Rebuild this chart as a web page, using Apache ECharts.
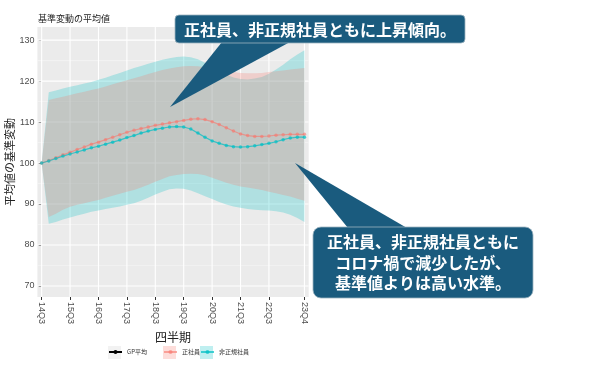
<!DOCTYPE html>
<html><head><meta charset="utf-8">
<script src="https://cdn.jsdelivr.net/npm/echarts@6/dist/echarts.min.js"></script>
<style>html,body{margin:0;padding:0;background:#fff}#c{width:600px;height:367px}</style>
</head><body><div id="c"></div>
<script>
// ---- data ----
const quarters = ['14Q3','14Q4','15Q1','15Q2','15Q3','15Q4','16Q1','16Q2','16Q3','16Q4','17Q1','17Q2','17Q3','17Q4','18Q1','18Q2','18Q3','18Q4','19Q1','19Q2','19Q3','19Q4','20Q1','20Q2','20Q3','20Q4','21Q1','21Q2','21Q3','21Q4','22Q1','22Q2','22Q3','22Q4','23Q1','23Q2','23Q3','23Q4'];
const xTickIndex = [0,4,8,12,16,20,24,28,32,37];
const yTicks = [70,80,90,100,110,120,130];
const yMinorTicks = [75,85,95,105,115,125];

const regularMean = [100,100.6,101.3,102.0,102.6,103.3,103.9,104.6,105.1,105.7,106.3,106.9,107.5,108.0,108.4,108.8,109.2,109.5,109.8,110.1,110.4,110.7,110.8,110.6,110.1,109.4,108.6,107.8,107.1,106.7,106.5,106.5,106.6,106.8,106.9,107.0,107.0,107.0];
const regularUpper = [100,115.4,115.8,116.2,116.6,117.0,117.4,117.8,118.2,118.7,119.2,119.7,120.2,120.7,121.2,121.7,122.2,122.7,123.1,123.4,123.6,123.7,123.6,123.4,123.1,122.8,122.5,122.2,122.0,121.9,121.9,122.0,122.2,122.4,122.6,122.8,123.0,123.2];
const regularLower = [100,86.8,87.6,88.6,89.3,89.8,90.2,90.6,91.0,91.5,92.0,92.5,93.0,93.4,94.0,94.7,95.4,96.1,96.8,97.1,97.3,97.4,97.3,97.0,96.4,95.8,95.2,94.7,94.3,94.0,93.7,93.4,93.0,92.6,92.2,91.8,91.3,90.8];

const nonRegularMean = [100,100.5,101.1,101.7,102.2,102.7,103.2,103.7,104.1,104.6,105.1,105.6,106.2,106.7,107.3,107.8,108.2,108.5,108.8,108.9,108.8,108.3,107.3,106.3,105.4,104.8,104.3,104.0,103.9,104.0,104.2,104.5,104.8,105.2,105.7,106.1,106.3,106.3];
const nonRegularUpper = [100,117.3,117.7,118.2,118.6,119.0,119.4,119.8,120.3,120.8,121.4,122.0,122.6,123.2,123.7,124.2,124.7,125.2,125.6,125.9,126.0,125.8,125.3,124.5,123.5,122.5,121.6,120.9,120.5,120.4,120.6,121.0,121.8,122.8,124.0,125.3,126.5,127.5];
const nonRegularLower = [100,85.2,85.6,86.2,86.7,87.2,87.6,88.1,88.4,88.8,89.1,89.4,89.8,90.2,90.8,91.5,92.3,93.0,93.6,93.8,93.7,93.3,92.6,91.9,91.2,90.5,89.9,89.4,89.1,88.8,88.6,88.5,88.4,88.2,87.9,87.4,86.6,85.6];

const seriesNames = ['GP平均','正社員','非正規社員'];
const titleText = '基準変動の平均値';
const xName = '四半期';
const yName = '平均値の基準変動';
const note1 = '正社員、非正規社員ともに上昇傾向。';
const note2 = '正社員、非正規社員ともに\nコロナ禍で減少したが、\n基準値よりは高い水準。';

// ---- build ----
const RED = '#F8766D', CYAN = '#00BFC4';
const pts = arr => arr.map((v,i)=>[i,v]);
const JP = '"Noto Sans CJK JP", "Noto Sans", sans-serif';

function ribbonSeries(lo, hi, fill){
  return {
    type:'custom', silent:true, z:2,
    data: lo.map((v,i)=>[i, v, hi[i]]),
    encode:{x:0, y:[1,2]},
    renderItem:function(params, api){
      if (params.dataIndex !== 0) return null;
      const top = hi.map((v,i)=>api.coord([i,v]));
      const bot = lo.map((v,i)=>api.coord([i,v])).reverse();
      return {type:'polygon', shape:{points:top.concat(bot)}, style:{fill:fill}};
    }
  };
}

const gridSeries = {
  type:'custom', silent:true, z:1,
  data:[[0,100]],
  renderItem:function(params, api){
    const children = [];
    const x0 = api.coord([-0.6,100])[0], x1 = api.coord([37.6,100])[0];
    const y0 = api.coord([0,67.3])[1], y1 = api.coord([0,133.2])[1];
    yMinorTicks.forEach(v=>{ const y = api.coord([0,v])[1];
      children.push({type:'line', shape:{x1:x0,y1:y,x2:x1,y2:y}, style:{stroke:'#F7F7F7', lineWidth:0.6}}); });
    yTicks.forEach(v=>{ const y = api.coord([0,v])[1];
      children.push({type:'line', shape:{x1:x0,y1:y,x2:x1,y2:y}, style:{stroke:'#FFFFFF', lineWidth:1.1}}); });
    xTickIndex.forEach(v=>{ const x = api.coord([v,100])[0];
      children.push({type:'line', shape:{x1:x,y1:y0,x2:x,y2:y1}, style:{stroke:'#FFFFFF', lineWidth:1.1}}); });
    return {type:'group', children:children};
  }
};

const chart = echarts.init(document.getElementById('c'));
const axisLabelStyle = {color:'#4D4D4D', fontSize:9, fontFamily:'Liberation Sans, Arial, sans-serif'};
const legendBase = {top:349, padding:0, itemWidth:13, itemHeight:5, itemGap:0, textStyle:{fontSize:6, color:'#333'}};
chart.setOption({
  animation:false,
  textStyle:{fontFamily:JP},
  title:{text:titleText, left:38, top:14, padding:0, textStyle:{fontSize:9, fontWeight:'normal', color:'#222', fontFamily:JP}},
  grid:{left:37.4, right:291.3, top:27, bottom:70, show:true, backgroundColor:'#EBEBEB', borderWidth:0},
  xAxis:{type:'value', min:-0.6, max:37.6,
    name:xName, nameLocation:'middle', nameGap:25, nameTextStyle:{fontSize:12, color:'#222', fontFamily:JP},
    axisLine:{show:false}, splitLine:{show:false},
    axisTick:{show:true, length:3, lineStyle:{color:'#333'}, customValues:xTickIndex},
    axisLabel:Object.assign({rotate:-90, margin:5, customValues:xTickIndex, formatter:v=>quarters[Math.round(v)]}, axisLabelStyle)
  },
  yAxis:{type:'value', min:67.3, max:133.2,
    name:yName, nameLocation:'middle', nameGap:20, nameRotate:90, nameTextStyle:{fontSize:11, color:'#222', fontFamily:JP},
    axisLine:{show:false}, splitLine:{show:false},
    axisTick:{show:true, length:3, lineStyle:{color:'#333'}, customValues:yTicks},
    axisLabel:Object.assign({margin:3, customValues:yTicks}, axisLabelStyle)
  },
  legend:[
    Object.assign({data:[seriesNames[0]], left:108}, legendBase),
    Object.assign({data:[seriesNames[1]], left:163}, legendBase),
    Object.assign({data:[seriesNames[2]], left:200}, legendBase)
  ],
  series:[
    gridSeries,
    ribbonSeries(nonRegularLower, nonRegularUpper, 'rgba(0,191,196,0.25)'),
    ribbonSeries(regularLower, regularUpper, 'rgba(248,118,109,0.25)'),
    {type:'line', name:seriesNames[0], data:[], color:'#000', symbol:'circle', symbolSize:3, z:3},
    {type:'line', name:seriesNames[1], data:pts(regularMean), color:RED, symbol:'circle', symbolSize:3.5,
      lineStyle:{width:1.2, opacity:0.6}, itemStyle:{opacity:0.6}, z:3},
    {type:'line', name:seriesNames[2], data:pts(nonRegularMean), color:CYAN, symbol:'circle', symbolSize:3.5,
      lineStyle:{width:1.2, opacity:0.7}, itemStyle:{opacity:0.7}, z:3}
  ],
  graphic:[
    {type:'rect', shape:{x:108, y:346, width:13, height:13}, style:{fill:'#F2F2F2'}, z:-1},
    {type:'rect', shape:{x:163, y:346, width:13, height:13}, style:{fill:'rgba(248,118,109,0.25)'}, z:-1},
    {type:'rect', shape:{x:200, y:346, width:13, height:13}, style:{fill:'rgba(0,191,196,0.25)'}, z:-1},
    {type:'polygon', shape:{points:[[222,42],[290,42],[170,107]]}, style:{fill:'#1A5B7E'}, z:100},
    {type:'rect', shape:{x:175, y:15, width:290, height:28, r:4}, style:{fill:'#1A5B7E', stroke:'#9DB4C0', lineWidth:0.8}, z:100},
    {type:'text', style:{text:note1, x:320, y:29.5, fill:'#fff', font:'bold 16px '+JP, align:'center', verticalAlign:'middle'}, z:101},
    {type:'polygon', shape:{points:[[348,228],[407,228],[295,163]]}, style:{fill:'#1A5B7E'}, z:100},
    {type:'rect', shape:{x:313, y:227, width:220, height:71, r:8}, style:{fill:'#1A5B7E', stroke:'#9DB4C0', lineWidth:0.8}, z:100},
    {type:'text', style:{text:note2, x:423, y:262.5, fill:'#fff', font:'bold 16px '+JP, lineHeight:20.5, align:'center', verticalAlign:'middle'}, z:101}
  ]
});
</script></body></html>
